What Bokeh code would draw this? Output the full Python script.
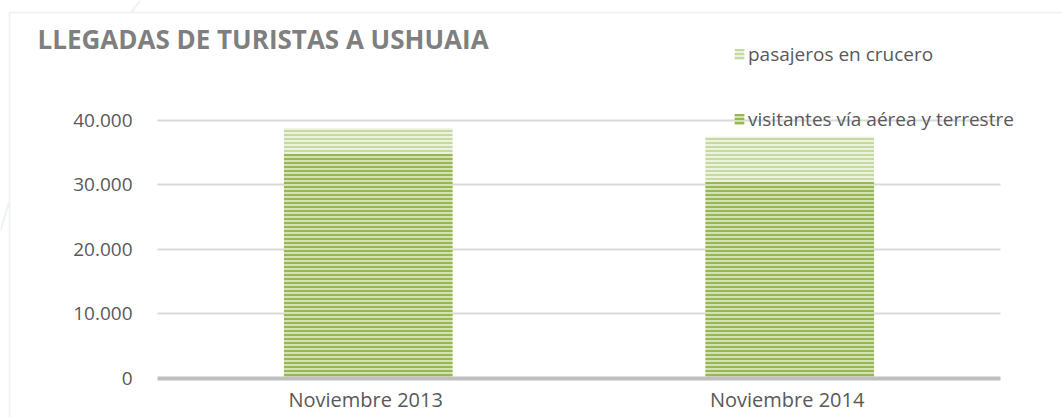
import numpy as np
from bokeh.plotting import figure
from bokeh.models import (Range1d, FixedTicker, Legend, LegendItem, Label,
                          BoxAnnotation, PolyAnnotation, LinearAxis, Grid,
                          ColumnDataSource)
from bokeh.embed import file_html
from bokeh.resources import INLINE

# ---- data ----
categories = ["Noviembre  2013", "Noviembre  2014"]
visitantes = [34900, 30500]          # visitantes vía aérea y terrestre
cruceros = [3900, 7000]              # pasajeros en crucero
series_names = ["visitantes vía aérea y terrestre", "pasajeros en crucero"]
yticks = [0, 10000, 20000, 30000, 40000]
ytick_labels = ["0", "10.000", "20.000", "30.000", "40.000"]
title_text = "LLEGADAS DE TURISTAS A USHUAIA"

W, H = 1062, 417
FONT = "Open Sans"
TXT = "#595959"

xpos = list(np.arange(len(categories)) + 0.5)

p = figure(width=W, height=H, x_range=Range1d(-0.3725, 2.1471),
           y_range=Range1d(-6047, 58605), output_backend="svg",
           toolbar_location=None, x_axis_location=None, y_axis_location=None,
           min_border=0)
p.outline_line_color = None
p.background_fill_color = "white"
p.border_fill_color = "white"
p.xgrid.visible = False
p.ygrid.visible = False

src = ColumnDataSource(dict(x=xpos, v=visitantes, c=cruceros))
stack = p.vbar_stack(["v", "c"], x="x", width=0.4, source=src,
                     fill_color=["#d2e2b2", "#ebf2de"],
                     hatch_color=["#97b755", "#c6d9a2"],
                     hatch_pattern="horizontal_line", hatch_scale=4,
                     hatch_weight=2, line_color=None)

# grid
grid = Grid(dimension=1, ticker=FixedTicker(ticks=yticks[1:]),
            cross_bounds=(0, len(categories)),
            grid_line_color="#d9d9d9", grid_line_width=2, level="underlay")
p.add_layout(grid)

# axes (drawn at fixed data locations inside the canvas)
yaxis = LinearAxis(fixed_location=0, ticker=FixedTicker(ticks=yticks),
                   major_label_overrides={t: l for t, l in zip(yticks, ytick_labels)},
                   axis_line_color=None, major_tick_line_color=None,
                   minor_tick_line_color=None, major_label_standoff=19,
                   major_label_text_font=FONT, major_label_text_font_size="19px",
                   major_label_text_color=TXT)
p.add_layout(yaxis, "left")

xaxis = LinearAxis(fixed_location=0, ticker=FixedTicker(ticks=xpos),
                   major_label_overrides={x: c for x, c in zip(xpos, categories)},
                   bounds=(0, len(categories)),
                   axis_line_color="#bfbfbf", axis_line_width=4,
                   major_tick_line_color=None, minor_tick_line_color=None,
                   major_label_standoff=2, major_label_text_font=FONT,
                   major_label_text_font_size="20px", major_label_text_color=TXT)
p.add_layout(xaxis, "below")

# legend
legend = Legend(items=[LegendItem(label=series_names[1], renderers=[stack[1]]),
                       LegendItem(label=series_names[0], renderers=[stack[0]])],
                location=(733, 285), orientation="vertical",
                glyph_width=12, glyph_height=14, label_standoff=3,
                label_height=20, spacing=39, padding=0, margin=0,
                border_line_color=None, background_fill_alpha=0,
                label_text_font=FONT, label_text_font_size="19px",
                label_text_color=TXT)
p.add_layout(legend)

# title
p.add_layout(Label(x=37, y=38, x_units="canvas", y_units="canvas",
                   text=title_text, text_font=FONT, text_font_size="26px",
                   text_font_style="bold", text_color="#7f7f7f",
                   text_baseline="alphabetic"))

# outer chart border
p.add_layout(BoxAnnotation(left=9, right=W + 20, top=12, bottom=H + 20,
                           left_units="canvas", right_units="canvas",
                           top_units="canvas", bottom_units="canvas",
                           fill_alpha=0, line_color="#d4d4d4", line_width=2,
                           level="underlay"))

# faint decorative background strokes outside the chart box
for xs, ys in (([140, 131], [0, 11]), ([8, 0], [203, 230])):
    p.add_layout(PolyAnnotation(xs=xs, ys=ys, xs_units="canvas", ys_units="canvas",
                                fill_alpha=0, line_color="#c9d3d3", line_width=2,
                                level="underlay"))

open("out.html", "w").write(file_html(p, INLINE))
